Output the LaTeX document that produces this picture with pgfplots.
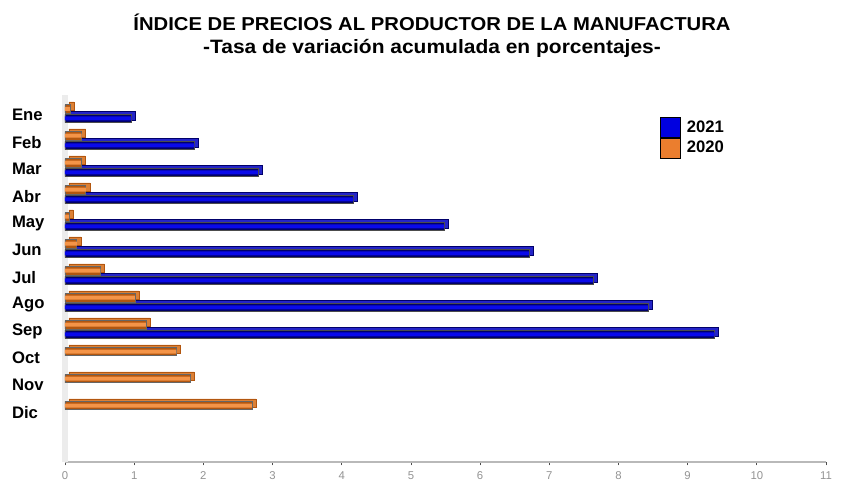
\documentclass[border=0pt]{standalone}
\usepackage{fontspec}
\setmainfont{Liberation Sans}
\usepackage{pgfplots}
\pgfplotsset{compat=1.18}
\usepackage{pgfplotstable}
\definecolor{bluedark}{HTML}{00006A}
\definecolor{bluemid}{HTML}{0A0AEA}
\definecolor{bluedepth}{HTML}{2424C8}
\definecolor{oradark}{HTML}{B2560F}
\definecolor{oramid}{HTML}{F49448}
\definecolor{oradepth}{HTML}{DC8035}
\definecolor{legblue}{HTML}{0000E0}
\definecolor{legora}{HTML}{EB7E2E}

\pgfplotstableread{
i v
1 0.96
2 1.87
3 2.79
4 4.17
5 5.48
6 6.71
7 7.63
8 8.43
9 9.39
}\bluedata
\pgfplotstableread{
i v
1 0.07
2 0.24
3 0.23
4 0.30
5 0.06
6 0.17
7 0.51
8 1.01
9 1.17
10 1.61
11 1.81
12 2.70
}\oradata

\begin{document}
\begin{tikzpicture}
\useasboundingbox (-48.75pt,-27.75pt) rectangle (582pt,346.5pt);
\begin{axis}[
 at={(0,0)}, anchor=south west,
 scale only axis, width=570.75pt, height=275.25pt,
 xmin=0, xmax=11, ymin=0.25, ymax=13.85, y dir=reverse,
 xbar, bar width=6.2pt, bar shift=0pt,
 axis x line*=bottom, axis y line*=left,
 x axis line style={draw=gray!55, line width=1.6pt, -},
 y axis line style={draw=gray!15, line width=5pt, -},
 xtick={0,...,11}, ytick={1,...,12},
 yticklabels={Ene,Feb,Mar,Abr,May,Jun,Jul,Ago,Sep,Oct,Nov,Dic},
 y tick style={draw=none},
 x tick style={draw=black!70, line width=0.5pt},
 tick align=outside, major tick length=2.5pt,
 xticklabel style={font=\fontsize{8.5}{10}\selectfont, text=gray!85, yshift=-1pt},
 yticklabel style={font=\fontsize{12.5}{14}\selectfont\bfseries, anchor=west, xshift=-40.75pt},
 /pgf/number format/assume math mode=true,
 clip=false,
 legend image code/.code={\fill[#1] (0pt,-7.5pt) rectangle (15pt,7.5pt);},
 legend style={at={(0.7819,0.94)}, anchor=north west, draw=none, fill=none,
   inner sep=0pt, row sep=0pt, font=\fontsize{12.5}{14}\selectfont\bfseries,
   nodes={inner ysep=0pt, inner xsep=4.5pt}},
 legend cell align=left,
]
% depth faces
\addplot[forget plot, fill=bluedepth, draw=bluedark, line width=0.3pt, xshift=3pt, yshift=2pt]
  table[x=v, y expr=\thisrow{i}+0.12] {\bluedata};
\addplot[forget plot, fill=oradepth, draw=oradark, line width=0.3pt, xshift=3pt, yshift=2pt]
  table[x=v, y expr=\thisrow{i}-0.24] {\oradata};
% front faces
\addplot[forget plot, fill=bluedark, draw=black!70, line width=0.4pt]
  table[x=v, y expr=\thisrow{i}+0.12] {\bluedata};
\addplot[forget plot, fill=bluemid, draw=none, bar width=3pt]
  table[x=v, y expr=\thisrow{i}+0.12] {\bluedata};
\addplot[forget plot, fill=oradark, draw=black!60, line width=0.4pt]
  table[x=v, y expr=\thisrow{i}-0.24] {\oradata};
\addplot[forget plot, fill=oramid, draw=none, bar width=3pt]
  table[x=v, y expr=\thisrow{i}-0.24] {\oradata};
\addlegendimage{fill=legblue}
\addlegendentry{2021}
\addlegendimage{fill=legora}
\addlegendentry{2020}
\end{axis}
\node[font=\fontsize{14}{16}\selectfont\bfseries] at (275.25pt,330pt) {\scalebox{1.085}[1]{ÍNDICE DE PRECIOS AL PRODUCTOR DE LA MANUFACTURA}};
\node[font=\fontsize{14.5}{16}\selectfont\bfseries] at (275.25pt,310.5pt) {\scalebox{1.085}[1]{-Tasa de variación acumulada en porcentajes-}};
\end{tikzpicture}
\end{document}
